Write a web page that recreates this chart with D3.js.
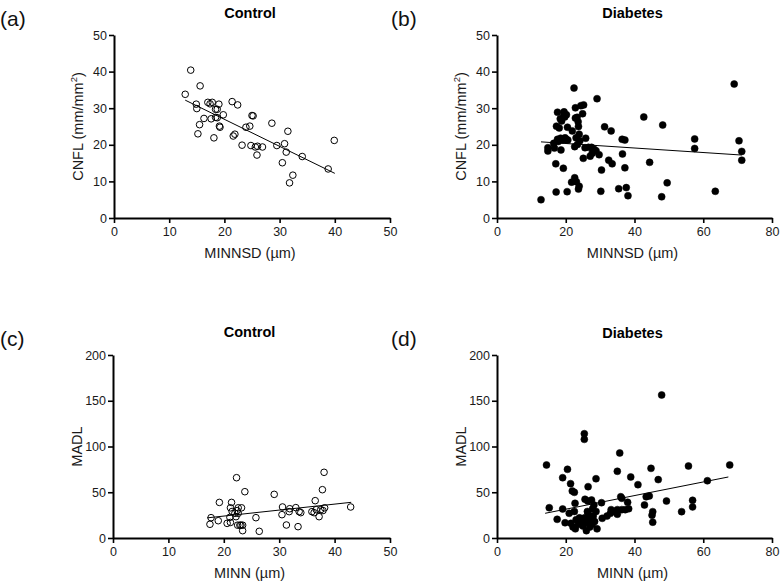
<!DOCTYPE html>
<html>
<head>
<meta charset="utf-8">
<script src="https://d3js.org/d3.v7.min.js"></script>
<style>
  body { margin: 0; background: #fff; }
  svg { font-family: "Liberation Sans", Arial, sans-serif; }
</style>
</head>
<body>
<div id="chart"></div>
<script>
  // Points: [x, y]
  var controlCnfl = [[13.9,40.4],[12.9,33.8],[15.6,36.1],[14.9,31.1],[15.0,29.9],[15.5,25.5],[15.2,23.0],[16.3,27.2],
    [17.0,31.6],[17.4,31.2],[17.8,31.6],[17.6,27.1],[18.1,21.9],[18.4,29.7],[18.7,29.7],[18.4,27.5],[18.7,27.4],
    [19.0,31.1],[19.1,25.1],[19.2,24.8],[19.8,28.2],[21.4,31.8],[22.4,30.9],[21.6,22.4],[21.9,22.9],[23.2,19.9],
    [23.9,24.8],[24.6,25.1],[25.0,28.0],[25.2,27.9],[24.8,19.8],[25.6,19.4],[25.9,17.2],[26.0,19.6],[26.9,19.4],
    [28.6,25.9],[29.5,19.8],[30.9,20.3],[30.5,15.1],[31.2,18.0],[31.5,23.7],[32.4,11.7],[31.8,9.6],[34.1,16.8],
    [38.8,13.4],[39.9,21.2]]
  var diabetesCnfl = [[12.8,5.0],[14.8,19.2],[14.8,18.3],[16.5,20.4],[16.7,19.1],[17.1,14.8],[17.2,7.1],[17.3,25.1],
    [17.6,28.9],[17.6,21.5],[17.8,20.9],[18.1,24.6],[18.4,27.1],[18.5,21.8],[18.6,18.6],[18.8,26.5],[19.1,21.3],
    [19.3,13.6],[19.4,27.9],[19.5,29.0],[19.7,27.6],[19.8,21.9],[20.1,21.5],[20.2,28.2],[20.4,7.2],[20.5,24.8],
    [20.6,21.3],[21.7,9.8],[21.9,23.8],[22.4,35.5],[22.6,11.0],[22.6,19.5],[22.8,30.1],[22.8,27.3],[23.0,21.9],
    [23.1,9.9],[23.3,27.5],[23.4,20.1],[23.6,26.3],[23.7,25.0],[23.7,7.9],[23.9,8.7],[23.9,22.9],[24.1,21.1],
    [24.4,30.7],[24.9,28.5],[25.2,30.9],[25.1,16.3],[25.8,21.8],[25.6,19.2],[26.6,19.3],[27.1,16.9],[27.5,19.3],
    [27.7,17.7],[28.2,18.8],[28.8,18.4],[29.1,32.6],[29.7,17.3],[30.2,7.3],[30.4,13.1],[31.3,24.9],[32.5,15.8],
    [33.2,23.8],[33.5,14.8],[35.4,8.0],[36.4,21.5],[36.5,17.5],[37.2,21.3],[37.2,13.7],[37.6,8.3],[38.1,6.1],
    [42.7,27.6],[44.4,15.2],[47.9,5.8],[48.2,25.4],[49.5,9.6],[57.5,21.6],[57.5,19.0],[63.5,7.3],[69.0,36.6],
    [70.4,21.1],[71.2,18.2],[71.2,15.8]]
  var controlMadl = [[19.2,38.9],[22.3,65.9],[21.4,38.9],[23.8,50.6],[29.1,47.7],[38.1,71.8],[37.8,52.8],[36.5,40.8],
    [42.9,33.9],[21.2,33],[21.5,29],[22.6,33],[23.2,33],[22.4,30],[30.6,33.9],[33.0,33.2],[31.8,28.8],[33.6,28.8],
    [35.9,28.8],[36.7,31],[37.5,31],[38.2,33],[17.7,22.2],[17.5,15],[19.0,18.9],[20.6,16],[21.2,17],[21.1,22.6],
    [22.2,23.3],[22.5,14],[22.9,14],[23.1,14],[23.4,14],[23.4,8],[22.0,27],[22.6,27],[25.8,22.2],[26.4,7.3],
    [30.5,25.5],[31.3,14.2],[31.9,32],[33.4,12.4],[33.9,27.7],[36.3,27.7],[37.2,23.3],[37.9,30]]
  var diabetesMadl = [[14.4,79.8],[47.9,156.3],[25.4,114],[25.4,107.8],[35.7,92.9],[67.7,79.8],[55.7,78.7],[20.5,75.1],
    [19.1,65.9],[21.4,59.4],[26.5,56.1],[28.8,64.8],[35.0,72.9],[44.8,76.1],[38.9,66.7],[41.0,58.3],[46.9,63.8],
    [61.2,62.6],[21.9,51.4],[22.5,49.9],[25.6,42.3],[26.4,40.4],[27.5,41.5],[22.7,37.9],[30.4,38.6],[28.2,36],
    [27.8,32],[28.8,29],[36.0,45.1],[36.3,43.4],[38.0,39.0],[43.4,45.1],[44.3,46],[49.3,40.4],[56.9,41.2],
    [56.9,33.9],[42.9,36.1],[15.2,33.1],[19.1,31.7],[35,31],[36.3,31],[37.3,31],[38.3,32],[33.2,31],[34.2,29],
    [33.0,27],[53.7,28.8],[45.3,28.8],[26.3,29],[26.5,27],[21,27],[22.5,29],[17.5,20.4],[19.8,16.7],[21.5,16],
    [22.1,12],[23.7,15],[24.7,19],[25.5,22],[26.2,17],[26.9,21],[27.7,15],[28.4,18],[29.1,10],[30.6,21.5],
    [32,24],[35,26],[45.1,25],[45.3,17.3],[24,22],[25,13],[27,12],[28,24],[23,20],[22.8,10],[26,8]]

  // regression lines as drawn (end points)
  var fitA = [[12.9,32.2],[40.0,12.2]]
  var fitB = [[12.8,20.8],[71.2,17.2]]
  var fitC = [[17.0,22.0],[43.0,39.0]]
  var fitD = [[14.0,27.0],[67.3,66.7]]

  var ticks50 = [0,10,20,30,40,50]
  var ticks80 = [0,20,40,60,80]
  var ticks200 = [0,50,100,150,200]

  var svg = d3.select("#chart")
    .append("svg")
    .attr("width", 781)
    .attr("height", 584)

  function panel(opt) {
    var x = d3.scaleLinear().domain(opt.xDomain).range([opt.left, opt.right])
    var y = d3.scaleLinear().domain(opt.yDomain).range([opt.bottom, opt.top])
    var g = svg.append("g")

    g.append("g")
      .attr("transform", "translate(0," + opt.bottom + ")")
      .call(d3.axisBottom(x).tickValues(opt.xTicks).tickSize(5).tickSizeOuter(0).tickPadding(4))
    g.append("g")
      .attr("transform", "translate(" + opt.left + ",0)")
      .call(d3.axisLeft(y).tickValues(opt.yTicks).tickSize(5).tickSizeOuter(0).tickPadding(2))

    g.selectAll(".domain").attr("stroke", "#000").attr("stroke-width", 2)
    g.selectAll(".tick line").attr("stroke", "#000").attr("stroke-width", 1.6)
    g.selectAll(".tick text").attr("font-size", 12.5).attr("fill", "#1a1a1a")
      .attr("font-family", "Liberation Sans, Arial, sans-serif")

    // fit line
    g.append("line")
      .attr("x1", x(opt.fit[0][0])).attr("y1", y(opt.fit[0][1]))
      .attr("x2", x(opt.fit[1][0])).attr("y2", y(opt.fit[1][1]))
      .attr("stroke", "#000").attr("stroke-width", 1)

    g.selectAll("circle")
      .data(opt.data)
      .enter()
      .append("circle")
      .attr("cx", function (d) { return x(d[0]) })
      .attr("cy", function (d) { return y(d[1]) })
      .attr("r", opt.filled ? 3.5 : 3.3)
      .attr("fill", opt.filled ? "#000" : "none")
      .attr("stroke", "#000")
      .attr("stroke-width", opt.filled ? 0.5 : 1)

    // title
    g.append("text")
      .attr("x", (opt.left + opt.right) / 2 - 2)
      .attr("y", opt.titleY)
      .attr("text-anchor", "middle")
      .attr("font-weight", "bold")
      .attr("font-size", 14.5)
      .text(opt.title)

    // x label
    g.append("text")
      .attr("x", (opt.left + opt.right) / 2 - 2)
      .attr("y", opt.bottom + 40)
      .attr("text-anchor", "middle")
      .attr("font-size", 14.5)
      .attr("fill", "#1a1a1a")
      .text(opt.xLabel)

    // y label
    var yl = g.append("text")
      .attr("transform", "translate(" + (opt.left - 31) + "," + (opt.top + opt.bottom) / 2 + ") rotate(-90)")
      .attr("text-anchor", "middle")
      .attr("font-size", 14.5)
      .attr("fill", "#1a1a1a")
    if (opt.yLabel === "CNFL") {
      yl.append("tspan").text("CNFL (mm/mm")
      yl.append("tspan").attr("font-size", 9.5).attr("dy", -6).text("2")
      yl.append("tspan").attr("dy", 6).text(")")
    } else {
      yl.text(opt.yLabel)
    }

    // panel letter
    g.append("text")
      .attr("x", opt.letterX)
      .attr("y", opt.letterY)
      .attr("font-size", 21)
      .attr("fill", "#111")
      .text(opt.letter)
  }

  panel({ letter: "(a)", letterX: 0, letterY: 26, title: "Control", titleY: 18,
    left: 114, right: 390, top: 35, bottom: 218, xDomain: [0, 50], yDomain: [0, 50],
    xTicks: ticks50, yTicks: ticks50, data: controlCnfl, fit: fitA, filled: false,
    xLabel: "MINNSD (\u00b5m)", yLabel: "CNFL" })
  panel({ letter: "(b)", letterX: 391, letterY: 26, title: "Diabetes", titleY: 18,
    left: 497, right: 772, top: 35, bottom: 218, xDomain: [0, 80], yDomain: [0, 50],
    xTicks: ticks80, yTicks: ticks50, data: diabetesCnfl, fit: fitB, filled: true,
    xLabel: "MINNSD (\u00b5m)", yLabel: "CNFL" })
  panel({ letter: "(c)", letterX: 0, letterY: 346, title: "Control", titleY: 337,
    left: 113, right: 390, top: 355, bottom: 538, xDomain: [0, 50], yDomain: [0, 200],
    xTicks: ticks50, yTicks: ticks200, data: controlMadl, fit: fitC, filled: false,
    xLabel: "MINN (\u00b5m)", yLabel: "MADL" })
  panel({ letter: "(d)", letterX: 391, letterY: 346, title: "Diabetes", titleY: 338,
    left: 497, right: 772, top: 355, bottom: 538, xDomain: [0, 80], yDomain: [0, 200],
    xTicks: ticks80, yTicks: ticks200, data: diabetesMadl, fit: fitD, filled: true,
    xLabel: "MINN (\u00b5m)", yLabel: "MADL" })
</script>
</body>
</html>
